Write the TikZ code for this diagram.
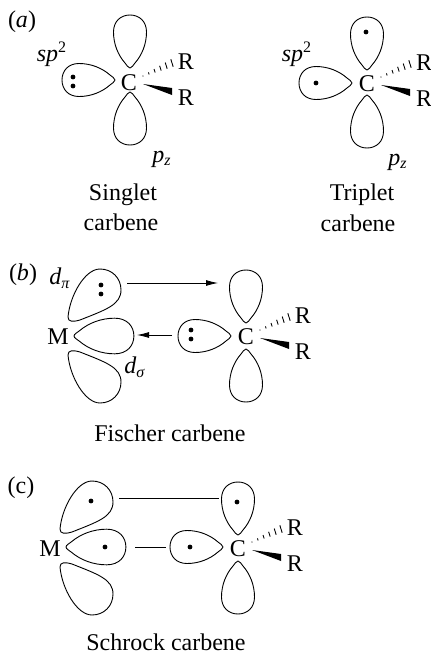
\documentclass[tikz,border=0pt]{standalone}
\usepackage{fontspec}
\setmainfont{Liberation Serif}
\usetikzlibrary{arrows.meta}
\tikzset{
  lobeline/.style={line width=0.45pt, line join=round},
  edot/.style={circle, fill=black, inner sep=0pt, minimum size=2.4pt},
  lbl/.style={inner sep=0pt, font=\fontsize{12}{14}\selectfont},
  bondline/.style={line width=0.4pt},
  pics/lobe/.style={code={
    \draw[lobeline] (0,0) .. controls (0,-2) and (3,-3) .. (5,-5)
      .. controls (13,-12) and (24,-16.5) .. (36,-16.5)
      .. controls (47,-16.5) and (53,-9) .. (53,0)
      .. controls (53,9) and (47,16.5) .. (36,16.5)
      .. controls (24,16.5) and (13,12) .. (5,5)
      .. controls (3,3) and (0,2) .. (0,0) -- cycle;
  }},
  pics/dlobe/.style={code={
    \draw[lobeline] (-6,-19) .. controls (-4,-41) and (11,-67) .. (26,-67)
      .. controls (38,-67) and (47,-58) .. (47,-46)
      .. controls (47,-31) and (31,-26) .. (6,-16)
      .. controls (-1,-14) and (-6,-14) .. (-6,-19) -- cycle;
  }},
  pics/rgroup/.style={code={
    \node[lbl] (-c) at (0,0) {C};
    \node[lbl] (-ra) at (57,-21) {R};
    \node[lbl] (-rb) at (57,15) {R};
    \foreach \t in {0,...,5}
      \draw[line width=0.45pt] ({14+\t*29/5-(0.4+\t*0.7)*0.3},{-7-\t*13/5-(0.4+\t*0.7)*0.95})
        -- ({14+\t*29/5+(0.4+\t*0.7)*0.3},{-7-\t*13/5+(0.4+\t*0.7)*0.95});
    \fill (14,1) -- (43,5) -- (43,12) -- cycle;
  }},
}
\begin{document}
\begin{tikzpicture}[x=0.5pt, y=-0.5pt]
  \useasboundingbox (0,0) rectangle (431,654);
  % singlet
  \node[lbl] (la) at (22,22) {(\textit{a})};
  \node[lbl] (spa) at (52,54) {\textit{sp}\textsuperscript{2}};
  \pic at (130,68) [rotate=90] {lobe};
  \pic at (130,92) [rotate=-90] {lobe};
  \pic at (115,80) [rotate=180] {lobe};
  \node[edot] (sa) at (73,77) {};
  \node[edot] (sb) at (73,86) {};
  \pic (s) at (129,83) {rgroup};
  \node[lbl] (pza) at (162,159) {\textit{p}\textsubscript{\textit{z}}};
  \node[lbl] (sname) at (123,195) {Singlet};
  \node[lbl] (scarb) at (121,222) {carbene};
  % triplet
  \node[lbl] (spb) at (297,54) {\textit{sp}\textsuperscript{2}};
  \pic at (367,70) [rotate=90] {lobe};
  \pic at (367,95) [rotate=-90] {lobe};
  \pic at (352,83) [rotate=180] {lobe};
  \node[edot] (ta) at (366,32) {};
  \node[edot] (tb) at (316,83) {};
  \pic (t) at (367,84) {rgroup};
  \node[lbl] (pzb) at (398,162) {\textit{p}\textsubscript{\textit{z}}};
  \node[lbl] (tname) at (362,195) {Triplet};
  \node[lbl] (tcarb) at (358,223) {carbene};
  % Fischer
  \node[lbl] (lb) at (23,275) {(\textit{b})};
  \node[lbl] (dpi) at (60,278) {\textit{d}\textsubscript{\textit{π}}};
  \node[lbl] (mb) at (58,337) {M};
  \pic at (74,336) {dlobe};
  \pic at (74,336) [yscale=-1] {dlobe};
  \pic at (74,336) [xscale=1.13, yscale=1.08] {lobe};
  \node[edot] (fa) at (101,285) {};
  \node[edot] (fb) at (101,294) {};
  \node[lbl] (dsig) at (135,367) {\textit{d}\textsubscript{\textit{σ}}};
  \pic at (246,323) [rotate=90] {lobe};
  \pic at (246,349) [rotate=-90] {lobe};
  \pic at (231,336) [rotate=180] {lobe};
  \node[edot] (fc) at (191,330) {};
  \node[edot] (fd) at (191,339) {};
  \pic (f) at (246,337) {rgroup};
  \coordinate (fpi) at (127,283);
  \coordinate (fpz) at (218,283);
  \coordinate (fsp) at (172,335);
  \coordinate (fsig) at (137,335);
  \draw[bondline, -{Latex[length=6pt, width=3pt]}] (fpi) -- (fpz);
  \draw[bondline, -{Latex[length=6pt, width=3pt]}] (fsp) -- (fsig);
  \node[lbl] (fname) at (170,433) {Fischer carbene};
  % Schrock
  \node[lbl] (lc) at (21,488) {(c)};
  \node[lbl] (mc) at (50,549) {M};
  \pic at (66,548) {dlobe};
  \pic at (66,548) [yscale=-1] {dlobe};
  \pic at (66,547) [xscale=1.13, yscale=1.08] {lobe};
  \node[edot] (ca) at (91,501) {};
  \node[edot] (cb) at (105,547) {};
  \pic at (238,535) [rotate=90] {lobe};
  \pic at (238,561) [rotate=-90] {lobe};
  \pic at (223,547) [rotate=180] {lobe};
  \node[edot] (cc) at (190,547) {};
  \node[edot] (cd) at (237,502) {};
  \pic (c) at (238,549) {rgroup};
  \coordinate (cpi) at (119,498);
  \coordinate (cpz) at (219,498);
  \coordinate (cdz) at (135,547);
  \coordinate (csp) at (166,547);
  \draw[bondline] (cpi) -- (cpz);
  \draw[bondline] (cdz) -- (csp);
  \node[lbl] (cname) at (166,642) {Schrock carbene};
\end{tikzpicture}
\end{document}
